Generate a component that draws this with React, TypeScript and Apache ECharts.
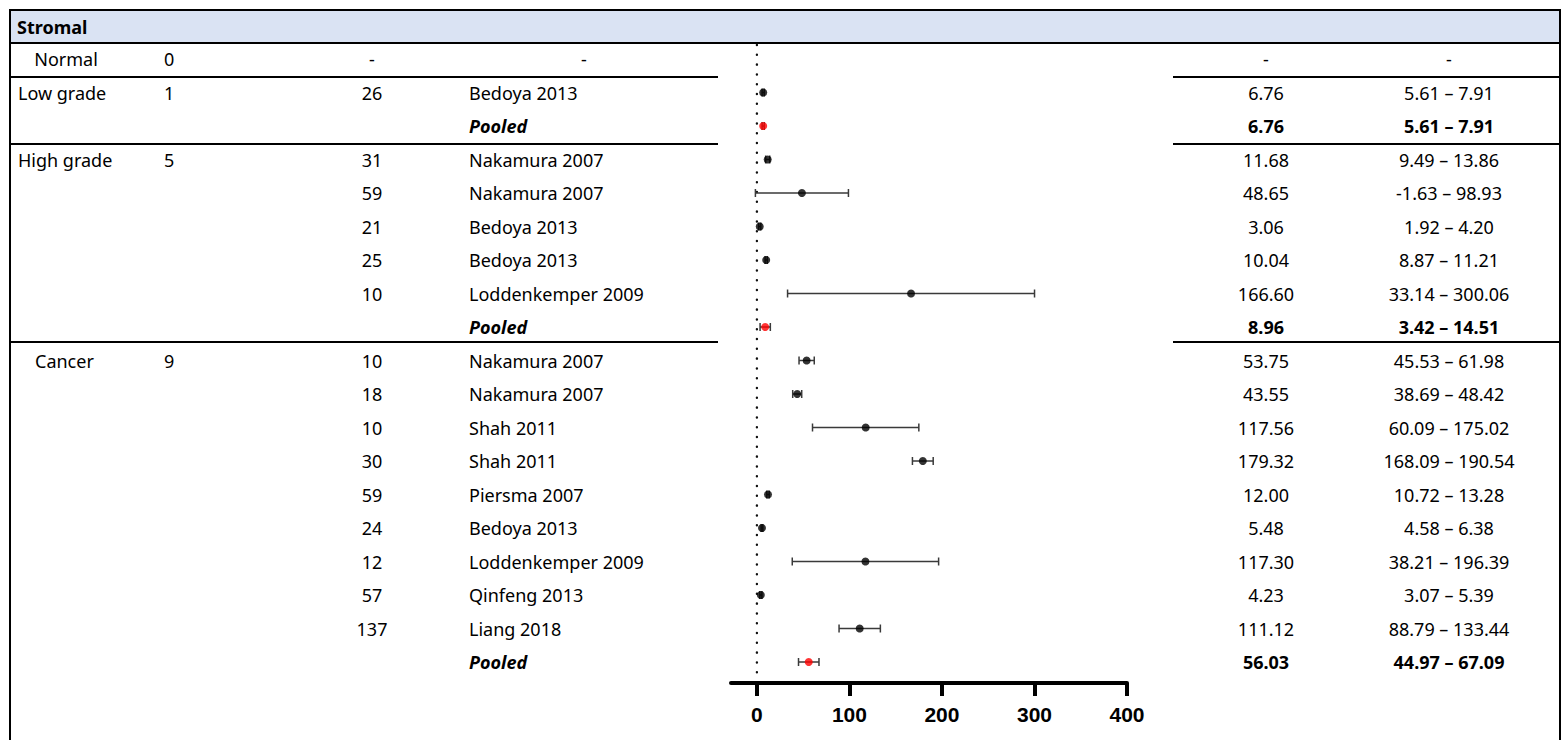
import React, { useEffect, useRef } from "react";
import * as echarts from "echarts";

// ---- data ----
const groupNames = ["Normal", "Low grade", "High grade", "Cancer"];
const groupStudyCounts = [0, 1, 5, 9];

const studyGroup = [1, 2, 2, 2, 2, 2, 3, 3, 3, 3, 3, 3, 3, 3, 3];
const studyN = [26, 31, 59, 21, 25, 10, 10, 18, 10, 30, 59, 24, 12, 57, 137];
const studyName = [
  "Bedoya 2013",
  "Nakamura 2007",
  "Nakamura 2007",
  "Bedoya 2013",
  "Bedoya 2013",
  "Loddenkemper 2009",
  "Nakamura 2007",
  "Nakamura 2007",
  "Shah 2011",
  "Shah 2011",
  "Piersma 2007",
  "Bedoya 2013",
  "Loddenkemper 2009",
  "Qinfeng 2013",
  "Liang 2018",
];
const studyMean = [6.76, 11.68, 48.65, 3.06, 10.04, 166.6, 53.75, 43.55, 117.56, 179.32, 12.0, 5.48, 117.3, 4.23, 111.12];
const studyLow = [5.61, 9.49, -1.63, 1.92, 8.87, 33.14, 45.53, 38.69, 60.09, 168.09, 10.72, 4.58, 38.21, 3.07, 88.79];
const studyHigh = [7.91, 13.86, 98.93, 4.2, 11.21, 300.06, 61.98, 48.42, 175.02, 190.54, 13.28, 6.38, 196.39, 5.39, 133.44];

const pooledGroup = [1, 2, 3];
const pooledMean = [6.76, 8.96, 56.03];
const pooledLow = [5.61, 3.42, 44.97];
const pooledHigh = [7.91, 14.51, 67.09];

const axisTicks = [0, 100, 200, 300, 400];

// ---- layout ----
const W = 1567;
const H = 740;
const ROW_H = 33.5;
const GRID_TOP = 42.25;
const AXIS_Y = 683;
const PLOT_LEFT = 731;
const PLOT_RIGHT = 1127;
const X_MIN = -28;
const X_MAX = 400;
const Y_MAX = (AXIS_Y - GRID_TOP) / ROW_H - 0.5;

const FONT = "'Noto Sans', 'Open Sans', sans-serif";
const FONT_SIZE = 18;

const COL = {
  count: 164,
  n: 372,
  study: 469,
  studyDash: 584,
  mean: 1266,
  ci: 1449,
};

type Row = {
  kind: "empty" | "study" | "pooled";
  group: number;
  firstOfGroup: boolean;
  idx: number;
};

// row order: each group's studies followed by its pooled estimate
function buildRows(): Row[] {
  const rows: Row[] = [{ kind: "empty", group: 0, firstOfGroup: true, idx: -1 }];
  for (let g = 1; g < groupNames.length; g++) {
    let first = true;
    studyGroup.forEach((sg, i) => {
      if (sg === g) {
        rows.push({ kind: "study", group: g, firstOfGroup: first, idx: i });
        first = false;
      }
    });
    const p = pooledGroup.indexOf(g);
    rows.push({ kind: "pooled", group: g, firstOfGroup: false, idx: p });
  }
  return rows;
}

const rowY = (i: number) => GRID_TOP + (i + 0.5) * ROW_H;
const fmt = (v: number) => v.toFixed(2);

function textEl(x: number, y: number, text: string, align: string, extra: any = {}) {
  return {
    type: "text",
    x,
    y,
    silent: true,
    style: {
      text,
      x: 0,
      y: 0,
      align,
      verticalAlign: "middle",
      fontFamily: FONT,
      fontSize: FONT_SIZE,
      fill: "#000",
      ...extra,
    },
  };
}

function hLine(x1: number, x2: number, y: number, w = 2) {
  return {
    type: "line",
    silent: true,
    shape: { x1, y1: y, x2, y2: y },
    style: { stroke: "#000", lineWidth: w },
  };
}

function vLine(x: number, y1: number, y2: number, w = 2) {
  return {
    type: "line",
    silent: true,
    shape: { x1: x, y1, x2: x, y2 },
    style: { stroke: "#000", lineWidth: w },
  };
}

export default function App() {
  const ref = useRef<HTMLDivElement>(null);

  useEffect(() => {
    if (!ref.current) return;
    const chart = echarts.init(ref.current, undefined, { renderer: "svg", width: W, height: H });
    const rows = buildRows();

    // table frame and header band
    const graphics: any[] = [
      {
        type: "rect",
        silent: true,
        shape: { x: 10, y: 10, width: 1550, height: 33 },
        style: { fill: "#dae3f3" },
      },
      hLine(9, 1561, 10),
      hLine(10, 1560, 43),
      vLine(10, 9, H),
      vLine(1560, 9, H),
      textEl(17, 27, "Stromal", "left", { fontWeight: "bold" }),
      // group separators
      hLine(10, 718, 77),
      hLine(1173, 1560, 77),
      hLine(10, 718, 144),
      hLine(1173, 1560, 144),
      hLine(10, 718, 342),
      hLine(1173, 1560, 342),
    ];

    const groupLabelX = [66, 18, 18, 35];
    const groupLabelAlign = ["center", "left", "left", "left"];

    const errData: number[][] = [];
    const studyPts: number[][] = [];
    const pooledPts: number[][] = [];

    rows.forEach((r, i) => {
      const y = rowY(i);
      if (r.firstOfGroup) {
        graphics.push(textEl(groupLabelX[r.group], y, groupNames[r.group], groupLabelAlign[r.group]));
        graphics.push(textEl(COL.count, y, String(groupStudyCounts[r.group]), "left"));
      }
      if (r.kind === "empty") {
        graphics.push(textEl(COL.n, y, "-", "center"));
        graphics.push(textEl(COL.studyDash, y, "-", "center"));
        graphics.push(textEl(COL.mean, y, "-", "center"));
        graphics.push(textEl(COL.ci, y, "-", "center"));
      } else if (r.kind === "study") {
        const k = r.idx;
        graphics.push(textEl(COL.n, y, String(studyN[k]), "center"));
        graphics.push(textEl(COL.study, y, studyName[k], "left"));
        graphics.push(textEl(COL.mean, y, fmt(studyMean[k]), "center"));
        graphics.push(textEl(COL.ci, y, `${fmt(studyLow[k])} \u2013 ${fmt(studyHigh[k])}`, "center"));
        errData.push([studyLow[k], studyHigh[k], i]);
        studyPts.push([studyMean[k], i]);
      } else {
        const k = r.idx;
        graphics.push(textEl(COL.study, y, "Pooled", "left", { fontWeight: "bold", fontStyle: "italic" }));
        graphics.push(textEl(COL.mean, y, fmt(pooledMean[k]), "center", { fontWeight: "bold" }));
        graphics.push(
          textEl(COL.ci, y, `${fmt(pooledLow[k])} \u2013 ${fmt(pooledHigh[k])}`, "center", { fontWeight: "bold" })
        );
        errData.push([pooledLow[k], pooledHigh[k], i]);
        pooledPts.push([pooledMean[k], i]);
      }
    });

    const option: any = {
      animation: false,
      backgroundColor: "#fff",
      grid: {
        left: PLOT_LEFT,
        right: W - PLOT_RIGHT,
        top: GRID_TOP,
        bottom: H - AXIS_Y,
        containLabel: false,
      },
      xAxis: {
        type: "value",
        min: X_MIN,
        max: X_MAX,
        position: "bottom",
        splitLine: { show: false },
        axisLine: { show: true, onZero: false, lineStyle: { color: "#000", width: 4 } },
        axisTick: {
          show: true,
          customValues: axisTicks,
          length: 13,
          lineStyle: { color: "#000", width: 4 },
        },
        axisLabel: {
          show: true,
          customValues: axisTicks,
          margin: 21,
          color: "#000",
          fontFamily: "'Liberation Sans', Arial, sans-serif",
          fontWeight: "bold",
          fontSize: 21,
        },
      },
      yAxis: {
        type: "value",
        inverse: true,
        min: -0.5,
        max: Y_MAX,
        show: false,
      },
      series: [
        {
          // dotted reference line at zero
          type: "line",
          data: [
            [0, -0.42],
            [0, 18.45],
          ],
          symbol: "none",
          silent: true,
          lineStyle: { color: "#111", width: 2.4, type: [0.1, 9.7], cap: "round" },
          z: 1,
        },
        {
          type: "custom",
          data: errData,
          silent: true,
          z: 2,
          renderItem: (params: any, api: any) => {
            const a = api.coord([api.value(0), api.value(2)]);
            const b = api.coord([api.value(1), api.value(2)]);
            const cap = 4;
            const st = { stroke: "#3a3a3a", lineWidth: 1.5 };
            return {
              type: "group",
              children: [
                { type: "line", shape: { x1: a[0], y1: a[1], x2: b[0], y2: b[1] }, style: st },
                { type: "line", shape: { x1: a[0], y1: a[1] - cap, x2: a[0], y2: a[1] + cap }, style: st },
                { type: "line", shape: { x1: b[0], y1: b[1] - cap, x2: b[0], y2: b[1] + cap }, style: st },
              ],
            };
          },
        },
        {
          type: "scatter",
          data: studyPts,
          symbol: "circle",
          symbolSize: 8,
          silent: true,
          itemStyle: { color: "#000" },
          z: 3,
        },
        {
          type: "scatter",
          data: pooledPts,
          symbol: "circle",
          symbolSize: 8,
          silent: true,
          itemStyle: { color: "#ff0000" },
          z: 3,
        },
      ],
      graphic: graphics,
    };

    chart.setOption(option);
    return () => chart.dispose();
  }, []);

  return (
    <div
      ref={ref}
      style={{ position: "fixed", left: 0, top: 0, width: W, height: H, background: "#fff" }}
    />
  );
}
